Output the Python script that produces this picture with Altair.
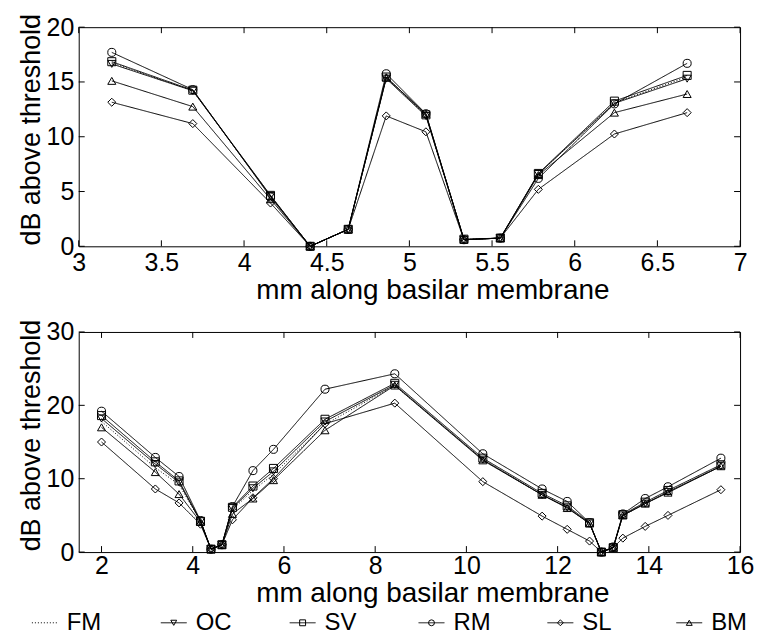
import altair as alt
import pandas as pd

FONT = "Liberation Sans"
series = ["FM", "OC", "SV", "RM", "SL", "BM"]
shapes = ["circle", "triangle-down", "square", "circle", "diamond", "triangle-up"]
dashes = [[1, 2], [1, 0], [1, 0], [1, 0], [1, 0], [1, 0]]

# ---- top panel ----
top_x = [3.2, 3.69, 4.16, 4.40, 4.63, 4.86, 5.10, 5.33, 5.55, 5.78, 6.24, 6.68]
top_vals = {
    "FM": [16.75, 14.2, 4.6, 0, 1.55, 15.4, 11.95, 0.62, 0.75, 6.6, 13.1, 15.45],
    "OC": [16.65, 14.2, 4.6, 0, 1.55, 15.3, 11.9, 0.6, 0.75, 6.6, 13.05, 15.3],
    "SV": [16.85, 14.25, 4.65, 0, 1.55, 15.45, 12.0, 0.65, 0.75, 6.65, 13.25, 15.6],
    "RM": [17.7, 14.3, 4.5, 0, 1.55, 15.75, 12.1, 0.6, 0.75, 6.2, 13.0, 16.7],
    "SL": [13.15, 11.2, 3.95, 0, 1.55, 11.9, 10.45, 0.6, 0.75, 5.2, 10.25, 12.2],
    "BM": [15.1, 12.75, 4.3, 0, 1.55, 15.4, 12.1, 0.6, 0.75, 6.5, 12.2, 13.9],
}
top_xticks = [3, 3.5, 4, 4.5, 5, 5.5, 6, 6.5, 7]
top_yticks = [0, 5, 10, 15, 20]

# ---- bottom panel ----
bot_x = [2.0, 3.18, 3.70, 4.17, 4.40, 4.64, 4.87, 5.32, 5.77, 6.90, 8.43,
         10.36, 11.66, 12.21, 12.70, 12.96, 13.22, 13.43, 13.92, 14.42, 15.58]
bot_vals = {
    "FM": [17.8, 11.5, 9.2, 4.2, 0.4, 1.0, 5.8, 8.4, 10.6, 17.4, 22.7, 12.6, 7.8, 6.1, 3.9, 0.0, 0.6, 5.0, 6.6, 8.2, 11.7],
    "OC": [18.2, 12.0, 9.5, 4.2, 0.4, 1.0, 6.0, 8.7, 11.0, 17.8, 22.8, 12.6, 7.8, 6.1, 3.9, 0.0, 0.6, 5.0, 6.6, 8.2, 11.7],
    "SV": [18.6, 12.3, 9.7, 4.2, 0.4, 1.0, 6.1, 9.0, 11.4, 18.1, 23.0, 12.8, 8.0, 6.3, 4.0, 0.0, 0.6, 5.1, 6.8, 8.4, 11.9],
    "RM": [19.2, 12.9, 10.3, 4.3, 0.4, 1.0, 6.2, 11.1, 14.0, 22.2, 24.3, 13.4, 8.6, 6.9, 4.0, 0.0, 0.7, 5.2, 7.3, 8.9, 12.8],
    "SL": [15.0, 8.6, 6.7, 3.8, 0.4, 1.0, 4.4, 7.4, 10.0, 17.5, 20.3, 9.6, 4.9, 3.1, 1.5, 0.0, 0.6, 1.9, 3.5, 5.0, 8.5],
    "BM": [17.0, 10.9, 7.9, 4.1, 0.4, 1.0, 5.2, 7.3, 9.8, 16.6, 22.7, 12.5, 7.8, 6.0, 3.9, 0.0, 0.6, 5.0, 6.6, 8.1, 11.7],
}
bot_xticks = [2, 4, 6, 8, 10, 12, 14, 16]
bot_yticks = [0, 10, 20, 30]

W = 664


def long_df(xs, vals):
    rows = []
    for s in series:
        for x, v in zip(xs, vals[s]):
            rows.append({"x": x, "series": s, "value": v})
    return pd.DataFrame(rows)


def panel(df, xdom, xticks, ydom, yticks, H, labelPad, titleY):
    xs = alt.Scale(domain=xdom, nice=False, zero=False)
    ys = alt.Scale(domain=ydom, nice=False, zero=False)
    x_axis = alt.Axis(values=xticks, title="mm along basilar membrane", format="~g",
                      ticks=False, domain=False, grid=False, labelFlush=False,
                      labelOverlap=False, labelFontSize=25, titleFontSize=28,
                      labelPadding=labelPad, titlePadding=1, titleX=355, titleAlign="center")
    y_axis = alt.Axis(values=yticks, title="dB above threshold", format="~g",
                      ticks=False, domain=False, grid=False, labelOverlap=False,
                      labelFontSize=25, titleFontSize=27, labelPadding=5,
                      titlePadding=1, titleY=titleY)
    base = alt.Chart(df)
    lines = base.mark_line(color="black", strokeWidth=1).encode(
        x=alt.X("x:Q", scale=xs, axis=x_axis),
        y=alt.Y("value:Q", scale=ys, axis=y_axis),
        detail="series:N",
        strokeDash=alt.StrokeDash("series:N", scale=alt.Scale(domain=series, range=dashes), legend=None),
    )
    pts = base.transform_filter(alt.datum.series != "FM").mark_point(
        filled=False, color="black", size=65, strokeWidth=1, opacity=1
    ).encode(
        x=alt.X("x:Q", scale=xs),
        y=alt.Y("value:Q", scale=ys),
        shape=alt.Shape("series:N", scale=alt.Scale(domain=series, range=shapes), legend=None),
    )
    tx = pd.DataFrame({"x": xticks})
    ty = pd.DataFrame({"value": yticks})
    L = 6
    rx1 = alt.Chart(tx).mark_rule(color="black", strokeWidth=1).encode(
        x=alt.X("x:Q", scale=xs), y=alt.value(H), y2=alt.value(H - L))
    rx2 = alt.Chart(tx).mark_rule(color="black", strokeWidth=1).encode(
        x=alt.X("x:Q", scale=xs), y=alt.value(0), y2=alt.value(L))
    ry1 = alt.Chart(ty).mark_rule(color="black", strokeWidth=1).encode(
        y=alt.Y("value:Q", scale=ys), x=alt.value(0), x2=alt.value(L))
    ry2 = alt.Chart(ty).mark_rule(color="black", strokeWidth=1).encode(
        y=alt.Y("value:Q", scale=ys), x=alt.value(W), x2=alt.value(W - L))
    return alt.layer(lines, pts, rx1, rx2, ry1, ry2).properties(width=W, height=H)


top = panel(long_df(top_x, top_vals), [3, 7], top_xticks, [0, 20], top_yticks, 220, 4, 102.5)
bottom = panel(long_df(bot_x, bot_vals), [1.5, 16], bot_xticks, [0, 30], bot_yticks, 221, 2, 103.5)

# ---- legend row (its origin is aligned with the plot areas' left edge) ----
leg = pd.DataFrame({"series": series})
lx = alt.X("series:N", scale=alt.Scale(type="point", domain=series, range=[-34, 613], padding=0), axis=None)
leg_rule = alt.Chart(leg).mark_rule(color="black", strokeWidth=1, xOffset=-13, x2Offset=13).encode(
    x=lx, x2="series:N", y=alt.value(12),
    strokeDash=alt.StrokeDash("series:N", scale=alt.Scale(domain=series, range=dashes), legend=None),
)
leg_pts = alt.Chart(leg).transform_filter(alt.datum.series != "FM").mark_point(
    filled=False, color="black", size=35, strokeWidth=1, opacity=1
).encode(
    x=lx, y=alt.value(12),
    shape=alt.Shape("series:N", scale=alt.Scale(domain=series, range=shapes), legend=None),
)
leg_txt = alt.Chart(leg).mark_text(align="left", baseline="middle", dx=22, fontSize=24, font=FONT).encode(
    x=lx, y=alt.value(12), text="series:N"
)
legend = alt.layer(leg_rule, leg_pts, leg_txt).properties(
    width=W, height=24, view=alt.ViewBackground(stroke="transparent")
)

panels = alt.vconcat(top, bottom, spacing=13).resolve_scale(x="independent", y="independent")
chart = alt.vconcat(panels, legend, spacing=1).configure(
    font=FONT, padding={"left": 8, "top": 3, "right": 0, "bottom": 0}
).configure_view(
    stroke="black", strokeWidth=1
).configure_axis(
    labelFont=FONT, titleFont=FONT, labelColor="black", titleColor="black", titleFontWeight="normal"
)

chart.save("out.html", embed_options={"renderer": "svg", "actions": False})
